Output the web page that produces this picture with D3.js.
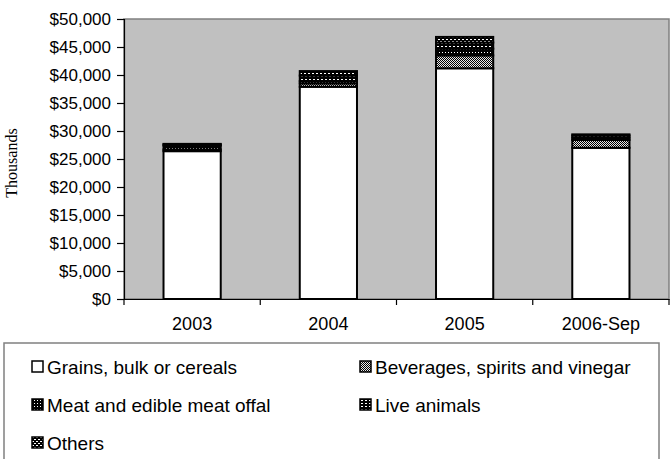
<!DOCTYPE html>
<html><head><meta charset="utf-8">
<script src="https://cdn.jsdelivr.net/npm/d3@7"></script>
<style>body{margin:0;background:#fff}svg{display:block}</style>
</head><body>
<script>
const categories = ["2003", "2004", "2005", "2006-Sep"];
const seriesNames = ["Grains, bulk or cereals", "Beverages, spirits and vinegar", "Meat and edible meat offal", "Live animals", "Others"];
const grains    = [26400, 37900, 41200, 27000];
const beverages = [300, 600, 2300, 1400];
const meat      = [700, 400, 1200, 400];
const live      = [200, 1000, 1100, 400];
const others    = [100, 800, 1000, 200];
const yTicks = [0, 5000, 10000, 15000, 20000, 25000, 30000, 35000, 40000, 45000, 50000];

const W = 670, H = 459;
const plot = {l: 124, r: 669, t: 19, b: 299};
const svg = d3.select("body").append("svg").attr("width", W).attr("height", H);
const defs = svg.append("defs");

function pat(id, w, h, bg, rects) {
  const p = defs.append("pattern").attr("id", id).attr("patternUnits", "userSpaceOnUse")
    .attr("width", w).attr("height", h);
  p.append("rect").attr("width", w).attr("height", h).attr("fill", bg);
  rects.forEach(r => p.append("rect").attr("x", r[0]).attr("y", r[1]).attr("width", r[2]).attr("height", r[3]).attr("fill", r[4]));
}
pat("pBev", 2, 2, "#e8e8e8", [[0,0,1,1,"#000"],[1,1,1,1,"#000"]]);
pat("pMeat", 3, 3, "#000", [[1,1,1,1,"#fff"]]);
pat("pLive", 4, 3, "#000", [[1,1,2,1,"#fff"]]);
pat("pOth", 4, 4, "#000", [[0,1,2,1,"#fff"],[2,3,2,1,"#fff"]]);
const fills = ["#fff", "url(#pBev)", "url(#pMeat)", "url(#pLive)", "url(#pOth)"];

const x = d3.scaleBand().domain(categories).range([plot.l, plot.r]).padding(0);
const y = d3.scaleLinear().domain([0, 50000]).range([plot.b, plot.t]);

svg.append("rect").attr("x", plot.l).attr("y", plot.t).attr("width", plot.r - plot.l).attr("height", plot.b - plot.t)
  .attr("fill", "#c0c0c0").attr("stroke", "#808080").attr("stroke-width", 1.5);

const rows = categories.map((c, i) => ({cat: c, s0: grains[i], s1: beverages[i], s2: meat[i], s3: live[i], s4: others[i]}));
const stack = d3.stack().keys(["s0","s1","s2","s3","s4"])(rows);
const bw = x.bandwidth() * 0.42;
stack.forEach((layer, k) => {
  svg.append("g").selectAll("rect").data(layer).join("rect")
    .attr("x", d => x(d.data.cat) + (x.bandwidth() - bw) / 2)
    .attr("y", d => y(d[1]))
    .attr("width", bw)
    .attr("height", d => y(d[0]) - y(d[1]))
    .attr("fill", fills[k]).attr("stroke", "#000").attr("stroke-width", 2);
});

const yAxis = svg.append("g").attr("transform", `translate(${plot.l},0)`)
  .call(d3.axisLeft(y).tickValues(yTicks).tickSize(7).tickPadding(6).tickFormat(d => "$" + d3.format(",")(d)));
yAxis.selectAll("text").attr("font-family", "Liberation Sans, Arial, sans-serif").attr("font-size", 17).attr("fill", "#000");
yAxis.selectAll("line,path").attr("stroke", "#000").attr("stroke-width", 1.2);

const xAxis = svg.append("g").attr("transform", `translate(0,${plot.b})`)
  .call(d3.axisBottom(x).tickSize(0).tickPadding(18));
xAxis.selectAll("text").attr("font-family", "Liberation Sans, Arial, sans-serif").attr("font-size", 18).attr("fill", "#000");
xAxis.select("path").attr("stroke", "#000").attr("stroke-width", 1.2);
xAxis.selectAll("line.bound").data(categories.concat(["end"])).join("line")
  .attr("x1", (d, i) => plot.l + i * x.step()).attr("x2", (d, i) => plot.l + i * x.step())
  .attr("y1", 0).attr("y2", 6).attr("stroke", "#000").attr("stroke-width", 1.2);

svg.append("text").attr("transform", `translate(17,${(plot.t + plot.b) / 2 + 4}) rotate(-90)`)
  .attr("text-anchor", "middle").attr("font-family", "Liberation Serif, Times New Roman, serif")
  .attr("font-size", 16).text("Thousands");

svg.append("rect").attr("x", 4).attr("y", 343).attr("width", 655).attr("height", 140)
  .attr("fill", "#fff").attr("stroke", "#808080").attr("stroke-width", 1.5);
const legPos = [[32, 367], [360, 367], [32, 405], [360, 405], [32, 443]];
seriesNames.forEach((n, i) => {
  const [lx, ly] = legPos[i];
  svg.append("rect").attr("x", lx).attr("y", ly - 6).attr("width", 11).attr("height", 11)
    .attr("fill", fills[i]).attr("stroke", "#000").attr("stroke-width", 1.5);
  svg.append("text").attr("x", lx + 15).attr("y", ly).attr("dy", "0.36em")
    .attr("font-family", "Liberation Sans, Arial, sans-serif").attr("font-size", 19).text(n);
});
</script>
</body></html>
